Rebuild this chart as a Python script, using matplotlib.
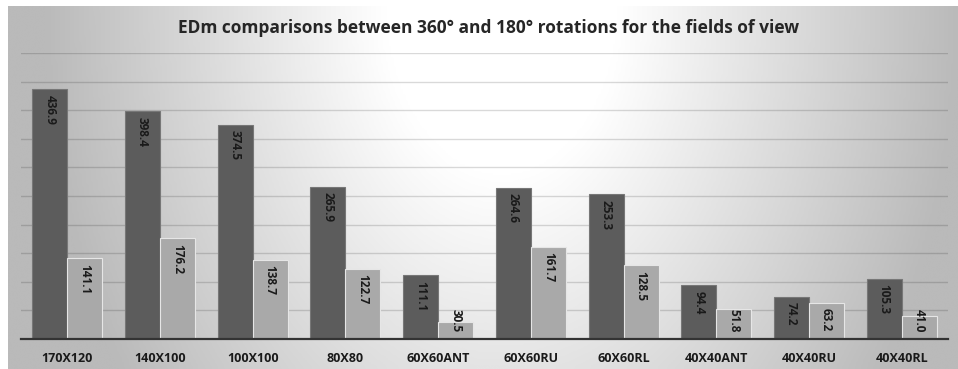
import numpy as np
import matplotlib.pyplot as plt

# ── Data ─────────────────────────────────────────────────────
fields = ["170X120", "140X100", "100X100", "80X80", "60X60ANT",
          "60X60RU", "60X60RL", "40X40ANT", "40X40RU", "40X40RL"]
edm_360 = [436.9, 398.4, 374.5, 265.9, 111.1, 264.6, 253.3, 94.4, 74.2, 105.3]
edm_180 = [141.1, 176.2, 138.7, 122.7, 30.5, 161.7, 128.5, 51.8, 63.2, 41.0]

title = "EDm comparisons between 360° and 180° rotations for the fields of view"

plt.rcParams["font.family"] = ["Open Sans", "DejaVu Sans"]

W, H = 958, 369
fig = plt.figure(figsize=(W / 100, H / 100), dpi=100)
fig.patch.set_facecolor("white")

# ── Gray backdrop, lightest around the upper middle ──────────
bg = fig.add_axes([8 / W, 0, 1 - 8 / W, 1 - 6 / H], zorder=0)
gx, gy = np.meshgrid(np.linspace(0, 1, 400), np.linspace(0, 1, 160))
dx = np.abs(gx - 0.52) / 0.48
dist = np.sqrt(dx ** 2 + (gy * 0.55) ** 2)
shade = 1 - 0.27 * np.clip((dist - 0.25) / 0.75, 0, 1)
bg.imshow(shade, cmap="gray", vmin=0, vmax=1, aspect="auto",
          extent=[0, 1, 1, 0], interpolation="bicubic")
bg.axis("off")

# ── Bars ─────────────────────────────────────────────────────
ax = fig.add_axes([21 / W, 30 / H, (948 - 21) / W, (339 - 53) / H], zorder=1)
ax.patch.set_alpha(0)

x = np.arange(len(fields))
w = 0.378
b1 = ax.bar(x - w / 2, edm_360, w, color="#5c5c5c", edgecolor="#777777",
            linewidth=0.8, zorder=2)
b2 = ax.bar(x + w / 2, edm_180, w, color="#a9a9a9", edgecolor="#e6e6e6",
            linewidth=0.8, zorder=2)

for bars, vals in ((b1, edm_360), (b2, edm_180)):
    for rect, v in zip(bars, vals):
        cx = rect.get_x() + rect.get_width() / 2
        if v >= 55:
            ax.annotate(f"{v:.1f}", (cx, v), xytext=(0, -4),
                        textcoords="offset points", rotation=270,
                        ha="center", va="top", fontsize=8.5,
                        fontweight="bold", color="#1a1a1a", zorder=3)
        else:
            ax.annotate(f"{v:.1f}", (cx, 0), xytext=(0, 5),
                        textcoords="offset points", rotation=270,
                        ha="center", va="bottom", fontsize=8.5,
                        fontweight="bold", color="#1a1a1a", zorder=3)

ax.set_xlim(-0.5, len(fields) - 0.5)
ax.set_ylim(0, 500)
ax.set_yticks(np.arange(0, 501, 50))
ax.yaxis.grid(True, color="black", alpha=0.15, linewidth=1.0, zorder=1)
ax.set_axisbelow(True)
ax.tick_params(axis="y", left=False, labelleft=False)
ax.tick_params(axis="x", bottom=False, pad=6)
ax.set_xticks(x)
ax.set_xticklabels(fields, fontsize=9, fontweight="bold", color="#1a1a1a")
for side in ("top", "left", "right"):
    ax.spines[side].set_visible(False)
ax.spines["bottom"].set_color("#333333")
ax.spines["bottom"].set_linewidth(1.6)
ax.spines["bottom"].set_zorder(4)

fig.text(489 / W, 1 - 28 / H, title, ha="center", va="center",
         fontsize=12.5, fontweight="bold", color="#262626")

fig.savefig("out.png", dpi=100)
